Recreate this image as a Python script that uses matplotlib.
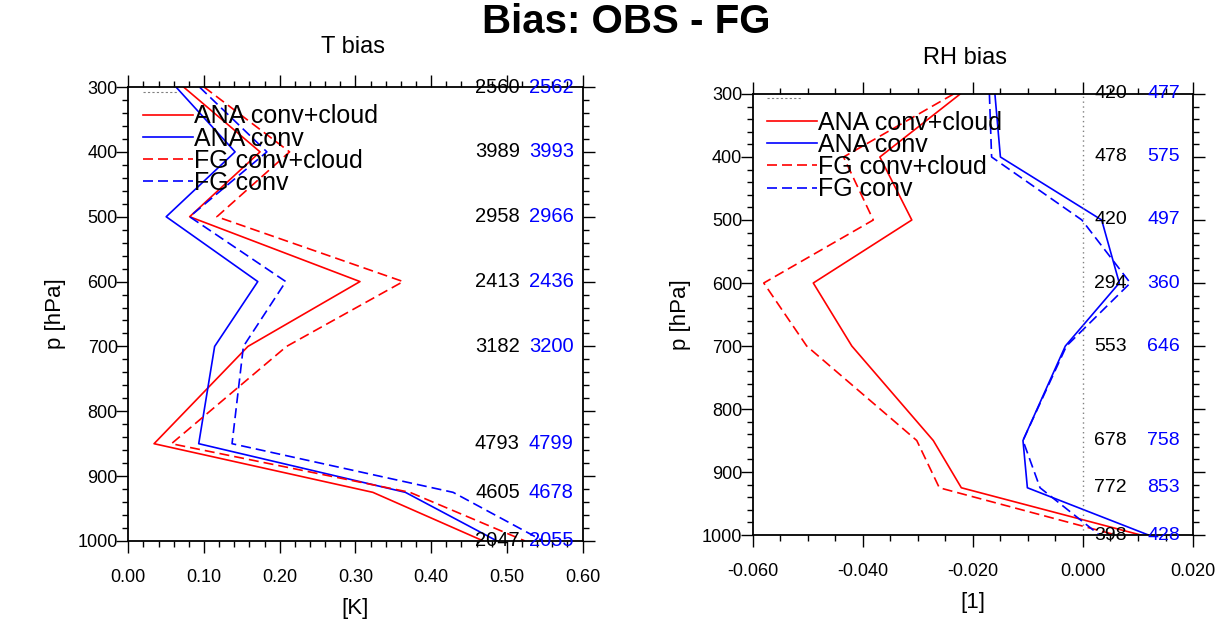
import numpy as np
import matplotlib
matplotlib.use("Agg")
import matplotlib.pyplot as plt
from matplotlib.ticker import MultipleLocator, FormatStrFormatter
import matplotlib.transforms as mtransforms

plt.rcParams['font.family'] = ['Liberation Sans', 'DejaVu Sans']

# pressure levels [hPa]
levels = [300, 400, 500, 600, 700, 850, 925, 1000]

# T bias [K]
t_ana_cc = [0.073, 0.174, 0.081, 0.306, 0.158, 0.034, 0.323, 0.469]
t_ana_c = [0.063, 0.141, 0.050, 0.171, 0.114, 0.093, 0.366, 0.487]
t_fg_cc = [0.100, 0.213, 0.117, 0.363, 0.209, 0.057, 0.372, 0.524]
t_fg_c = [0.094, 0.183, 0.081, 0.208, 0.152, 0.137, 0.429, 0.548]
t_n_cc = [2560, 3989, 2958, 2413, 3182, 4793, 4605, 2047]
t_n_c = [2562, 3993, 2966, 2436, 3200, 4799, 4678, 2055]

# RH bias [1]
rh_ana_cc = [-0.0223, -0.0369, -0.0311, -0.0490, -0.0420, -0.0272, -0.0221, 0.0105]
rh_ana_c = [-0.0160, -0.0150, 0.0034, 0.0066, -0.0032, -0.0109, -0.0101, 0.0119]
rh_fg_cc = [-0.0235, -0.0435, -0.0381, -0.0580, -0.0502, -0.0302, -0.0261, 0.0060]
rh_fg_c = [-0.0170, -0.0166, -0.0002, 0.0086, -0.0030, -0.0109, -0.0078, 0.0030]
rh_n_cc = [420, 478, 420, 294, 553, 678, 772, 398]
rh_n_c = [477, 575, 497, 360, 646, 758, 853, 428]

labels = ['ANA conv+cloud', 'ANA conv', 'FG conv+cloud', 'FG conv']

fig = plt.figure(figsize=(12.21, 6.27), dpi=100)
ax1 = fig.add_axes([0.1051, 0.1372, 0.3720, 0.7240])
ax2 = fig.add_axes([0.6165, 0.1467, 0.3606, 0.7034])


def profile(ax, ana_cc, ana_c, fg_cc, fg_c, n_cc, n_c, xlim, major, minor, fmt,
            xlabel, nx_black, nx_blue, count_size):
    lw = 1.2
    ax.plot(ana_cc, levels, color='red', lw=lw, label=labels[0])
    ax.plot(ana_c, levels, color='blue', lw=lw, label=labels[1])
    ax.plot(fg_cc, levels, color='red', lw=lw, ls=(0, (6, 3)), label=labels[2])
    ax.plot(fg_c, levels, color='blue', lw=lw, ls=(0, (6, 3)), label=labels[3])

    ax.set_xlim(*xlim)
    ax.set_ylim(1000, 300)
    ax.xaxis.set_major_locator(MultipleLocator(major))
    ax.xaxis.set_minor_locator(MultipleLocator(minor))
    ax.xaxis.set_major_formatter(FormatStrFormatter(fmt))
    ax.yaxis.set_major_locator(MultipleLocator(100))
    ax.yaxis.set_minor_locator(MultipleLocator(20))
    ax.tick_params(which='both', direction='out', top=True, right=True,
                   labeltop=False, labelright=False, width=1.0)
    ax.tick_params(which='major', length=8.5, labelsize=13)
    ax.tick_params(which='minor', length=4.5)
    ax.tick_params(axis='x', which='major', pad=12)
    ax.tick_params(axis='y', which='major', pad=-1)
    for sp in ax.spines.values():
        sp.set_linewidth(1.3)

    ax.set_xlabel(xlabel, fontsize=16, labelpad=8)
    ax.set_ylabel('p [hPa]', fontsize=16, labelpad=8)

    # observation counts
    trans = mtransforms.blended_transform_factory(ax.transAxes, ax.transData)
    for p, a, b in zip(levels, n_cc, n_c):
        ax.text(nx_black, p, str(a), transform=trans, ha='right', va='center',
                fontsize=count_size, color='black', clip_on=False)
        ax.text(nx_blue, p, str(b), transform=trans, ha='left', va='center',
                fontsize=count_size, color='blue', clip_on=False)

    # short dotted marker at top-left
    ax.plot([0.032, 0.11], [0.99, 0.99], transform=ax.transAxes, color='gray',
            ls=(0, (2, 2)), lw=0.8)

    leg = ax.legend(loc='upper left', bbox_to_anchor=(0.032, 0.962), frameon=False,
                    fontsize=18, handlelength=2.0, handletextpad=0.05,
                    labelspacing=-0.07, borderpad=0, borderaxespad=0)
    return leg


profile(ax1, t_ana_cc, t_ana_c, t_fg_cc, t_fg_c, t_n_cc, t_n_c,
        (0.0, 0.6), 0.1, 0.02, '%.2f', '[K]', 0.862, 0.882, 14.5)
profile(ax2, rh_ana_cc, rh_ana_c, rh_fg_cc, rh_fg_c, rh_n_cc, rh_n_c,
        (-0.06, 0.02), 0.02, 0.005, '%.3f', '[1]', 0.850, 0.896, 14)
ax2.axvline(0.0, color='gray', lw=1.0, ls=(0, (1, 2.5)))

fig.text(0.5127, 0.965, 'Bias: OBS - FG', ha='center', va='center',
         fontsize=29, fontweight='bold')
fig.text(0.2891, 0.925, 'T bias', ha='center', va='center', fontsize=17)
fig.text(0.7900, 0.908, 'RH bias', ha='center', va='center', fontsize=17)

fig.savefig('out.png', dpi=100)
